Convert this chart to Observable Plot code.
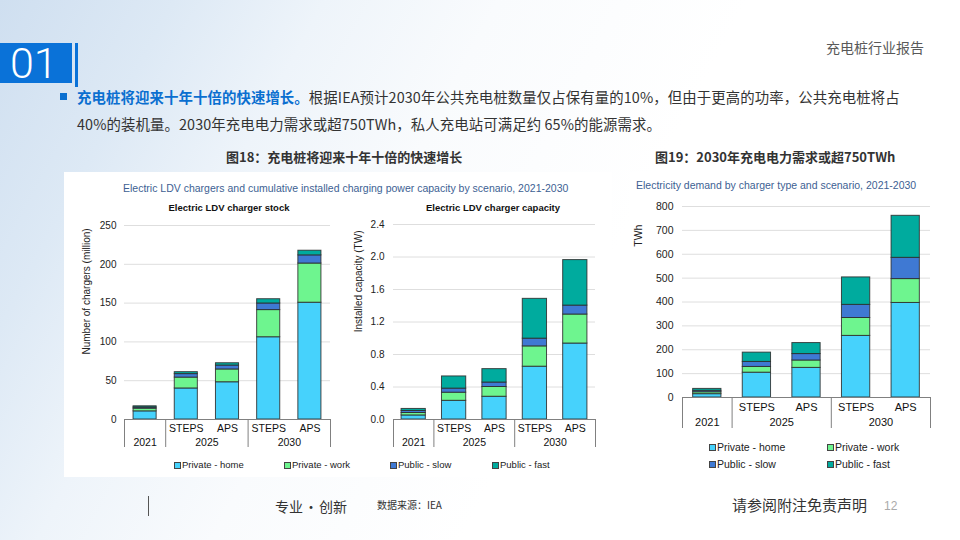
<!DOCTYPE html>
<html>
<head>
<meta charset="utf-8">
<script src="https://cdn.jsdelivr.net/npm/d3@7"></script>
<script src="https://cdn.jsdelivr.net/npm/@observablehq/plot@0.6"></script>
<style>
  html, body { margin: 0; padding: 0; }
  #slide {
    position: relative; width: 960px; height: 540px; overflow: hidden;
    background: linear-gradient(118deg, #cfdff0 0%, #dde9f5 14%, #eef4fa 26%, #f9fbfd 40%, #ffffff 60%);
    font-family: "Noto Sans CJK SC", "Noto Sans", sans-serif;
  }
  .abs { position: absolute; white-space: nowrap; }
  .panel { position: absolute; background: #ffffff; }
  .plot { position: absolute; }
  .en { font-family: "Liberation Sans", Arial, sans-serif; }
  .leg { position: absolute; font-family: "Liberation Sans", Arial, sans-serif; color: #222; white-space: nowrap; display: flex; align-items: center; }
  .leg i { display: inline-block; width: 5px; height: 5px; border: 1px solid #444; margin-right: 1px; }
</style>
</head>
<body>
<div id="slide">
  <!-- header -->
  <div class="abs" style="left:0;top:43px;width:72px;height:40px;background:#0a72d8;"></div>
  <div class="abs" style="left:10px;top:39px;font-family:Roboto,'Liberation Sans',sans-serif;font-weight:300;font-size:43px;line-height:48px;color:#fff;">01</div>
  <div class="abs" style="left:75px;top:43px;width:3px;height:44px;background:#0a72d8;"></div>
  <div class="abs" style="left:826px;top:38px;font-size:14px;line-height:18px;color:#595959;">充电桩行业报告</div>

  <div class="abs" style="left:60px;top:93px;width:7px;height:7px;background:#0a6fd0;"></div>
  <div class="abs" style="left:77px;top:86px;font-size:14.4px;line-height:22px;color:#333;letter-spacing:0.1px;"><b style="color:#0a6fd0;">充电桩将迎来十年十倍的快速增长。</b>根据IEA预计2030年公共充电桩数量仅占保有量的10%，但由于更高的功率，公共充电桩将占</div>
  <div class="abs" style="left:77px;top:113px;font-size:14.4px;line-height:22px;color:#333;letter-spacing:0.1px;">40%的装机量。2030年充电电力需求或超750TWh，私人充电站可满足约 65%的能源需求。</div>

  <div class="abs" style="left:226px;top:148px;font-size:13px;line-height:18px;font-weight:bold;color:#333;">图18：充电桩将迎来十年十倍的快速增长</div>
  <div class="abs" style="left:655px;top:148px;font-size:13px;line-height:18px;font-weight:bold;color:#333;">图19：2030年充电电力需求或超750TWh</div>

  <!-- panels -->
  <div class="panel" style="left:64px;top:172px;width:548px;height:305px;"></div>
  <div class="panel" style="left:630px;top:172px;width:310px;height:306px;"></div>

  <div class="abs en" style="left:123px;top:181px;font-size:10.5px;line-height:14px;color:#3d5f93;">Electric LDV chargers and cumulative installed charging power capacity by scenario, 2021-2030</div>
  <div class="abs en" style="left:168px;top:202px;width:122px;text-align:center;font-size:9.5px;line-height:12px;font-weight:bold;color:#111;">Electric LDV charger stock</div>
  <div class="abs en" style="left:420px;top:202px;width:146px;text-align:center;font-size:9.5px;line-height:12px;font-weight:bold;color:#111;">Electric LDV charger capacity</div>
  <div class="abs en" style="left:636px;top:178px;font-size:10.5px;line-height:14px;color:#3d5f93;">Electricity demand by charger type and scenario, 2021-2030</div>

  <div id="c1" class="plot" style="left:64px;top:215px;"></div>
  <div id="c2" class="plot" style="left:340px;top:214px;"></div>
  <div id="c3" class="plot" style="left:630px;top:196px;"></div>

  <div id="legL"></div>
  <div id="legR"></div>

  <!-- footer -->
  <div class="abs" style="left:148px;top:496px;width:1px;height:20px;background:#555;"></div>
  <div class="abs" style="left:275px;top:496px;font-size:14px;line-height:20px;color:#333;">专业<span style="margin:0 1px;">·</span>创新</div>
  <div class="abs" style="left:377px;top:498px;font-size:10px;line-height:14px;color:#333;">数据来源：IEA</div>
  <div class="abs" style="left:732px;top:495px;font-size:15px;line-height:20px;color:#333;">请参阅附注免责声明</div>
  <div class="abs en" style="left:884px;top:499px;font-size:12px;line-height:14px;color:#aaa;">12</div>
</div>

<script>
// ---------------- data ----------------
const categories = ["2021", "STEPS 2025", "APS 2025", "STEPS 2030", "APS 2030"];
const scenarioLabels = ["", "STEPS", "APS", "STEPS", "APS"];
const yearLabels = ["2021", "2025", "2025", "2030", "2030"];
const seriesNames = ["Private - home", "Private - work", "Public - slow", "Public - fast"];
const seriesColors = ["#46d2fc", "#6ef58f", "#3f79d3", "#00ab9e"];

// Charger stock (million)
const stockHome = [10.5, 40, 48, 106, 150.5];
const stockWork = [3.5, 14, 16.5, 35, 50.5];
const stockSlow = [1.5, 4.5, 5, 8.5, 10.5];
const stockFast = [1.5, 2.5, 3, 5.5, 6];
const stockTicks = [0, 50, 100, 150, 200, 250];

// Charger capacity (TW)
const capHome = [0.05, 0.23, 0.28, 0.65, 0.935];
const capWork = [0.03, 0.10, 0.12, 0.25, 0.357];
const capSlow = [0.025, 0.05, 0.055, 0.095, 0.11];
const capFast = [0.025, 0.15, 0.165, 0.49, 0.56];
const capTicks = [0, 0.4, 0.8, 1.2, 1.6, 2.0, 2.4];

// Electricity demand (TWh)
const demHome = [14, 104, 124, 258, 396];
const demWork = [8, 24, 31, 75, 100];
const demSlow = [6, 21, 27, 55, 89];
const demFast = [8, 39, 46, 115, 176];
const demTicks = [0, 100, 200, 300, 400, 500, 600, 700, 800];

// ---------------- helpers ----------------
function stackRows(seriesArrays) {
  const rows = [];
  categories.forEach((c, i) => {
    let acc = 0;
    seriesArrays.forEach((arr, s) => {
      rows.push({i, cat: c, series: seriesNames[s], y1: acc, y2: acc + arr[i]});
      acc += arr[i];
    });
  });
  return rows;
}
const cats = categories.map((c, i) => ({i, scen: scenarioLabels[i], year: yearLabels[i]}));
const groups = d3.groups(cats, d => d.year).map(([year, arr]) => ({
  year, mid: d3.mean(arr, d => d.i), end: d3.max(arr, d => d.i)
}));
const separators = [-0.5, ...groups.map(g => g.end + 0.5)];

function chart(opts) {
  const rows = stackRows(opts.series);
  const hw = opts.half;
  return Plot.plot({
    width: opts.width, height: opts.height,
    marginLeft: opts.ml, marginRight: opts.mr, marginTop: opts.mt, marginBottom: opts.mb,
    style: {background: "transparent", fontFamily: "'Liberation Sans', Arial, sans-serif", fontSize: opts.fs + "px", color: "#222", overflow: "visible"},
    x: {domain: [-0.5, categories.length - 0.5], axis: null},
    y: {domain: [0, opts.ticks[opts.ticks.length - 1]], axis: null},
    color: {domain: seriesNames, range: seriesColors},
    marks: [
      Plot.gridY(opts.ticks, {stroke: "#dedede", strokeOpacity: 1}),
      Plot.axisY(opts.ticks, {tickSize: 0, tickPadding: opts.tp, tickFormat: opts.fmt, fontSize: opts.fs, label: null}),
      Plot.rect(rows, {
        x1: d => d.i - hw, x2: d => d.i + hw, y1: "y1", y2: "y2",
        fill: "series", stroke: "#2b2b2b", strokeWidth: 1, strokeOpacity: 0.85
      }),
      Plot.ruleY([0], {stroke: "#808080"}),
      Plot.ruleX(separators, {x: d => d, y1: () => 0, y2: () => 0, insetBottom: -opts.sepLen, stroke: "#808080"}),
      Plot.text(cats, {x: "i", y: () => 0, text: "scen", dy: opts.scenDy, fontSize: opts.lfs, fill: "#111"}),
      Plot.text(groups, {x: "mid", y: () => 0, text: "year", dy: opts.yearDy, fontSize: opts.lfs, fill: "#111"}),
      Plot.text([opts.ylabel], {frameAnchor: "left", textAnchor: "middle", y: () => opts.ylabelY, dx: opts.ylabelDx, rotate: -90, fontSize: opts.yfs, fill: "#222"})
    ]
  });
}

document.getElementById("c1").append(chart({
  series: [stockHome, stockWork, stockSlow, stockFast], ticks: stockTicks, fmt: d => d,
  width: 276, height: 237, ml: 60, mr: 10, mt: 10, mb: 33, half: 0.28, fs: 10, tp: 8,
  lfs: 10.5, scenDy: 9, yearDy: 23, sepLen: 28,
  ylabel: "Number of chargers (million)", ylabelY: 165, ylabelDx: -38, yfs: 10
}));
document.getElementById("c2").append(chart({
  series: [capHome, capWork, capSlow, capFast], ticks: capTicks, fmt: d => d.toFixed(1),
  width: 265, height: 238, ml: 53, mr: 10, mt: 10, mb: 33, half: 0.3, fs: 10, tp: 9,
  lfs: 10.5, scenDy: 9, yearDy: 23, sepLen: 28,
  ylabel: "Installed capacity (TW)", ylabelY: 1.7, ylabelDx: -35, yfs: 10
}));
document.getElementById("c3").append(chart({
  series: [demHome, demWork, demSlow, demFast], ticks: demTicks, fmt: d => d,
  width: 310, height: 236, ml: 52, mr: 10, mt: 10, mb: 35, half: 0.285, fs: 10.5, tp: 9,
  lfs: 11, scenDy: 10, yearDy: 25, sepLen: 31,
  ylabel: "TWh", ylabelY: 678, ylabelDx: -44, yfs: 10.5
}));

// legends
function legendItem(parent, name, color, x, y, fs) {
  const d = document.createElement("div");
  d.className = "leg";
  d.style.left = x + "px"; d.style.top = (y - 7) + "px"; d.style.fontSize = fs + "px"; d.style.lineHeight = "14px";
  const sq = document.createElement("i"); sq.style.background = color;
  d.append(sq, document.createTextNode(name));
  parent.append(d);
}
const legL = document.getElementById("legL");
const legLX = [174, 284, 390, 492];
seriesNames.forEach((n, s) => legendItem(legL, n, seriesColors[s], legLX[s], 465, 9.5));
const legR = document.getElementById("legR");
const legRX = [709, 827, 709, 827];
const legRY = [447, 447, 464, 464];
seriesNames.forEach((n, s) => legendItem(legR, n, seriesColors[s], legRX[s], legRY[s], 10.5));
</script>
</body>
</html>
